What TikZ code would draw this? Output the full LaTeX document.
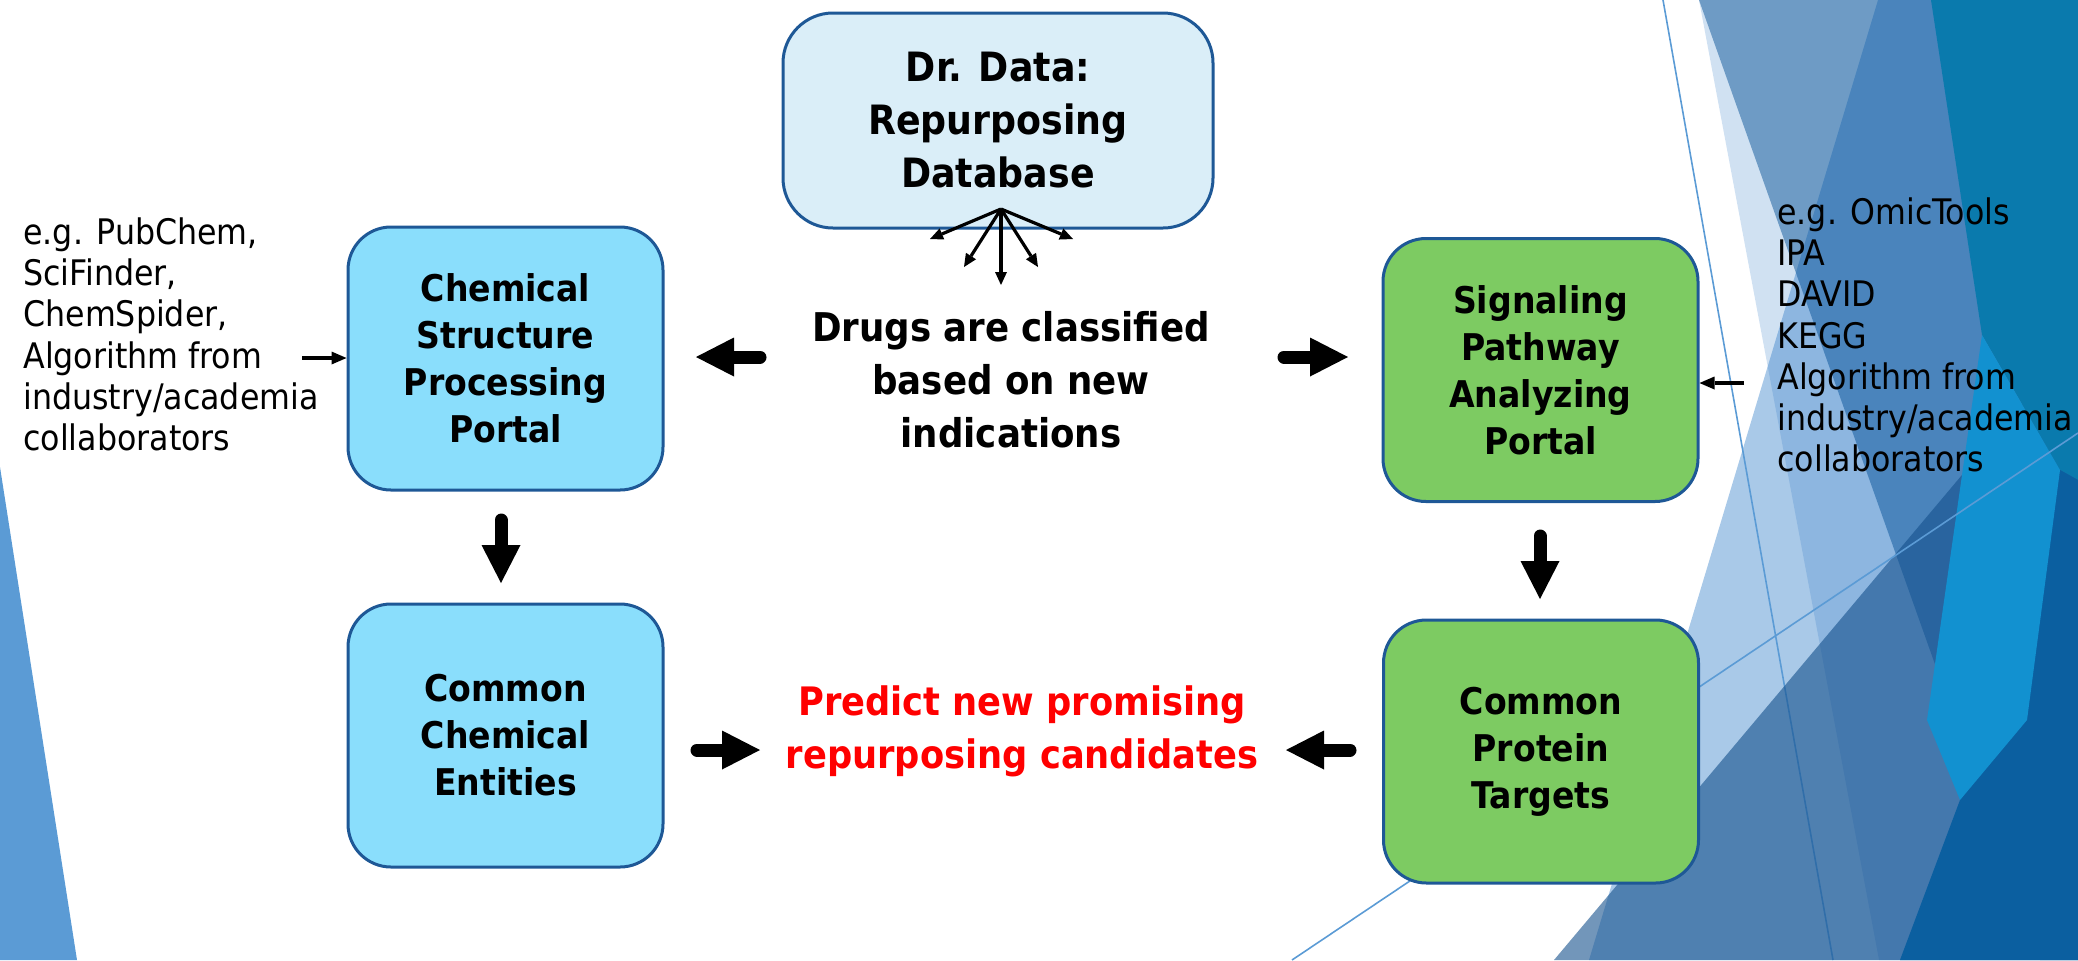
\documentclass[tikz,border=0pt]{standalone}
\usepackage{fontspec}
\setmainfont{DejaVu Sans Condensed}
\usetikzlibrary{arrows.meta}
\definecolor{bordc}{RGB}{30,88,150}
\definecolor{topfill}{RGB}{218,238,248}
\definecolor{chemfill}{RGB}{138,222,252}
\definecolor{greenfill}{RGB}{125,203,98}
\definecolor{predred}{RGB}{255,0,0}
\definecolor{sliverc}{RGB}{91,155,213}
\definecolor{lbc}{RGB}{169,201,232}
\definecolor{sbc}{RGB}{42,119,196}
\definecolor{t1c}{RGB}{0,77,148}
\definecolor{tealc}{RGB}{10,122,173}
\definecolor{mc}{RGB}{20,80,140}
\definecolor{brc}{RGB}{18,145,208}
\definecolor{darkc}{RGB}{11,95,160}
\definecolor{thinc}{RGB}{91,155,213}
\begin{document}
\begin{tikzpicture}[x=0.5pt,y=-0.5pt,
 box/.style={draw=bordc,line width=1.5pt,rounded corners=21.5pt,minimum width=157.5pt,minimum height=131.5pt,align=center,inner sep=0pt,font=\fontsize{18.4pt}{23.5pt}\selectfont\bfseries},
 blockarrow/.style={line width=6.5pt,line cap=round,-{Triangle[length=19pt,width=19.5pt,line width=0pt]}},
 fanarrow/.style={line width=1.6pt,-{Triangle[length=6.5pt,width=6pt,line width=0pt]}},
 thinarrow/.style={line width=1.6pt,-{Triangle[length=7.5pt,width=6.5pt,line width=0pt]}},
 srctext/.style={align=left,inner sep=0pt,anchor=north west,font=\fontsize{17.6pt}{20.65pt}\selectfont},
 midtext/.style={align=center,inner sep=0pt,font=\fontsize{19.8pt}{26.5pt}\selectfont\bfseries},
 thinline/.style={draw=thinc,line width=0.8pt}
]
\useasboundingbox (0,0) rectangle (2078,960);
% background decoration
\begin{scope}
\clip (0,0) rectangle (2078,960);
\fill[sliverc] (0,467) -- (77,960) -- (0,960) -- cycle;
\fill[lbc] (1878,0) -- (2078,0) -- (2078,960) -- (1589,960) -- cycle;
\fill[sbc,opacity=.22] (1699,0) -- (2078,0) -- (2078,960) -- (1879,960) -- cycle;
\fill[t1c,opacity=.47] (1699,0) -- (2078,0) -- (2078,960) -- (2040,960) -- cycle;
\draw[thinline] (1663,0) -- (1833,960);
\fill[mc,opacity=.6] (1554,960) -- (2078,337) -- (2078,960) -- cycle;
\fill[tealc] (1931,0) -- (2078,0) -- (2078,480) -- (2060,470) -- (1982,335) -- cycle;
\fill[darkc] (2060,470) -- (2078,480) -- (2078,960) -- (1900,960) -- (1960,800) -- cycle;
\fill[brc] (1982,335) -- (2060,470) -- (2027,720) -- (1960,800) -- (1927,720) -- cycle;
\draw[thinline] (1292,960) -- (2078,433);
\end{scope}
% boxes
\node[box,fill=topfill,minimum width=215pt,minimum height=107.5pt,rounded corners=25pt,font=\fontsize{20.2pt}{26.5pt}\selectfont\bfseries] (db) at (998,120.5) {Dr. Data:\\Repurposing\\Database};
\node[box,fill=chemfill] (chem) at (505.5,358.5) {Chemical\\Structure\\Processing\\Portal};
\node[box,fill=greenfill] (sig) at (1540.5,370) {Signaling\\Pathway\\Analyzing\\Portal};
\node[box,fill=chemfill] (cce) at (505.5,735.5) {Common\\Chemical\\Entities};
\node[box,fill=greenfill] (cpt) at (1541,751.5) {Common\\Protein\\Targets};
% texts
\node[midtext] (drugs) at (1011,380) {Drugs are classified\\based on new\\indications};
\node[midtext,text=predred,font=\fontsize{19.6pt}{26.5pt}\selectfont\bfseries] (pred) at (1022,731) {Predict new promising\\repurposing candidates};
\node[srctext] (lsrc) at (23,217) {e.g. PubChem,\\SciFinder,\\ChemSpider,\\Algorithm from\\industry/academia\\collaborators};
\node[srctext] (rsrc) at (1777,197) {e.g. OmicTools\\IPA\\DAVID\\KEGG\\Algorithm from\\industry/academia\\collaborators};
% thin arrows
\coordinate (la) at (302,358);
\draw[thinarrow] (la) -- (la -| chem.west);
\coordinate (ra) at (1744,383);
\draw[thinarrow] (ra) -- (ra -| sig.east);
% fan
\coordinate (fan) at (1001,209);
\coordinate (f1) at (930,239);
\coordinate (f2) at (964,267);
\coordinate (f3) at (1001,285);
\coordinate (f4) at (1038,267);
\coordinate (f5) at (1073,239);
\foreach \f in {f1,f2,f3,f4,f5} \draw[fanarrow] (fan) -- (\f);
% block arrows
\coordinate (b1s) at (760,357); \coordinate (b1e) at (696,357);
\coordinate (b2s) at (1284,357); \coordinate (b2e) at (1348,357);
\coordinate (b3s) at (697,750); \coordinate (b3e) at (760,750);
\coordinate (b4s) at (1350,750); \coordinate (b4e) at (1286,750);
\coordinate (b5s) at (501,520); \coordinate (b5e) at (501,583);
\coordinate (b6s) at (1540,536); \coordinate (b6e) at (1540,599);
\draw[blockarrow] (b1s) -- (b1e);
\draw[blockarrow] (b2s) -- (b2e);
\draw[blockarrow] (b3s) -- (b3e);
\draw[blockarrow] (b4s) -- (b4e);
\draw[blockarrow] (b5s) -- (b5e);
\draw[blockarrow] (b6s) -- (b6e);
\end{tikzpicture}
\end{document}
